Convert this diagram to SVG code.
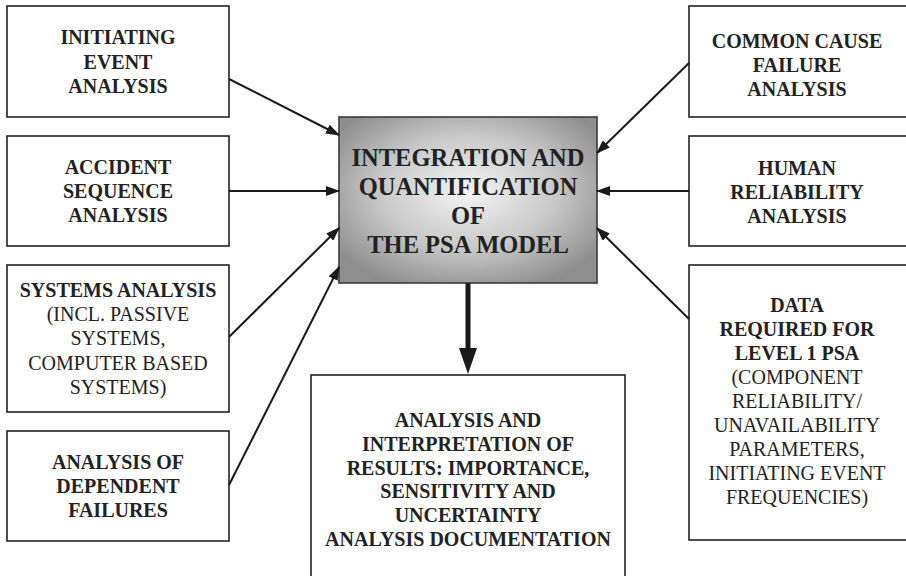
<svg xmlns="http://www.w3.org/2000/svg" width="906" height="576" viewBox="0 0 906 576">
<style>
.box{fill:#fff;stroke:#222;stroke-width:1.6}
.t{font-size:20px;fill:#222;text-anchor:middle}
.b{font-weight:bold}
.c{font-size:24.5px;font-weight:bold;fill:#222;text-anchor:middle}
.ln{stroke:#1a1a1a;stroke-width:2;fill:none;marker-end:url(#ah)}
</style>
<defs>
<radialGradient id="g" cx="0.5" cy="0.45" r="0.62">
<stop offset="0" stop-color="#f4f4f4"/>
<stop offset="0.55" stop-color="#c8c8c8"/>
<stop offset="1" stop-color="#8e8e8e"/>
</radialGradient>
<marker id="ah" markerWidth="14" markerHeight="10" refX="13" refY="5" orient="auto" markerUnits="userSpaceOnUse">
<path d="M0,0 L14,5 L0,10 Z" fill="#1a1a1a"/>
</marker>
</defs>
<g font-family="Liberation Serif, Times New Roman, DejaVu Serif, serif">
<g id="n-initiating">
<rect class="box" x="7" y="6" width="222" height="111"/>
<text class="t b" x="118" y="44">INITIATING</text>
<text class="t b" x="118" y="69">EVENT</text>
<text class="t b" x="118" y="93">ANALYSIS</text>
</g>
<g id="n-accident">
<rect class="box" x="7" y="136" width="222" height="110"/>
<text class="t b" x="118" y="174">ACCIDENT</text>
<text class="t b" x="118" y="198">SEQUENCE</text>
<text class="t b" x="118" y="222">ANALYSIS</text>
</g>
<g id="n-systems">
<rect class="box" x="7" y="265" width="222" height="147"/>
<text class="t b" x="118" y="297">SYSTEMS ANALYSIS</text>
<text class="t" x="118" y="321">(INCL. PASSIVE</text>
<text class="t" x="118" y="345">SYSTEMS,</text>
<text class="t" x="118" y="370">COMPUTER BASED</text>
<text class="t" x="118" y="394">SYSTEMS)</text>
</g>
<g id="n-dependent">
<rect class="box" x="7" y="431" width="222" height="110"/>
<text class="t b" x="118" y="469">ANALYSIS OF</text>
<text class="t b" x="118" y="493">DEPENDENT</text>
<text class="t b" x="118" y="517">FAILURES</text>
</g>

<g id="n-ccf">
<rect class="box" x="689" y="6" width="230" height="111"/>
<text class="t b" x="797" y="48">COMMON CAUSE</text>
<text class="t b" x="797" y="72">FAILURE</text>
<text class="t b" x="797" y="96">ANALYSIS</text>
</g>
<g id="n-human">
<rect class="box" x="689" y="136" width="230" height="110"/>
<text class="t b" x="797" y="175">HUMAN</text>
<text class="t b" x="797" y="199">RELIABILITY</text>
<text class="t b" x="797" y="223">ANALYSIS</text>
</g>
<g id="n-data">
<rect class="box" x="689" y="265" width="230" height="275"/>
<text class="t b" x="797" y="312">DATA</text>
<text class="t b" x="797" y="336">REQUIRED FOR</text>
<text class="t b" x="797" y="360">LEVEL 1 PSA</text>
<text class="t" x="797" y="384">(COMPONENT</text>
<text class="t" x="797" y="408">RELIABILITY/</text>
<text class="t" x="797" y="432">UNAVAILABILITY</text>
<text class="t" x="797" y="456">PARAMETERS,</text>
<text class="t" x="797" y="480">INITIATING EVENT</text>
<text class="t" x="797" y="504">FREQUENCIES)</text>
</g>

<g id="n-center">
<rect x="339" y="117" width="258" height="166" fill="url(#g)" stroke="#3a3a3a" stroke-width="1.6"/>
<text class="c" x="468" y="166">INTEGRATION AND</text>
<text class="c" x="468" y="195">QUANTIFICATION</text>
<text class="c" x="468" y="224">OF</text>
<text class="c" x="468" y="253">THE PSA MODEL</text>
</g>

<g id="n-results">
<rect class="box" x="311" y="375" width="314" height="230"/>
<text class="t b" x="468" y="427">ANALYSIS AND</text>
<text class="t b" x="468" y="451">INTERPRETATION OF</text>
<text class="t b" x="468" y="475">RESULTS: IMPORTANCE,</text>
<text class="t b" x="468" y="498">SENSITIVITY AND</text>
<text class="t b" x="468" y="522">UNCERTAINTY</text>
<text class="t b" x="468" y="546">ANALYSIS DOCUMENTATION</text>
</g>
</g>
<g id="connectors">
<line class="ln" x1="229" y1="79" x2="339" y2="135"/>
<line class="ln" x1="229" y1="191" x2="339" y2="191"/>
<line class="ln" x1="229" y1="337" x2="339" y2="228"/>
<line class="ln" x1="229" y1="485" x2="339" y2="267"/>
<line class="ln" x1="689" y1="63" x2="597" y2="153"/>
<line class="ln" x1="689" y1="191" x2="597" y2="191"/>
<line class="ln" x1="689" y1="319" x2="597" y2="228"/>
<line x1="468" y1="283" x2="468" y2="350" stroke="#1a1a1a" stroke-width="5"/>
<path d="M459,348 L477,348 L468,374 Z" fill="#1a1a1a"/>
</g>
</svg>
